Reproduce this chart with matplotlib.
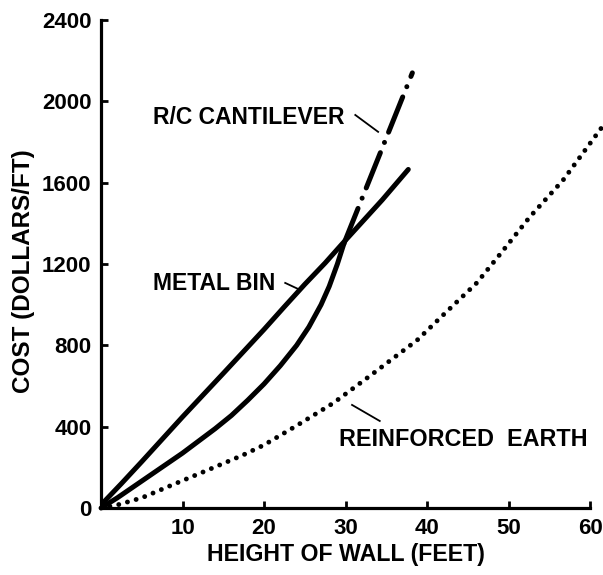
import matplotlib
matplotlib.use("Agg")
from matplotlib import pyplot as plt

# wall height (ft) vs cost per running foot for three wall types
metal_bin_height = [0, 2.5, 5, 7.5, 10, 12.5, 15, 17.5, 20, 22.5, 25, 27.5,
                    29.5, 32, 34.5, 37.7]
metal_bin_cost = [15, 120, 228, 338, 448, 555, 662, 770, 878, 990, 1100, 1205,
                  1295, 1405, 1515, 1665]

cantilever_height = [0, 2, 4, 6, 8, 10, 12, 14, 16, 18, 20, 22, 24, 25.5, 27,
                     28, 29, 29.8]
cantilever_cost = [0, 50, 105, 160, 215, 270, 330, 390, 455, 530, 610, 700,
                   800, 890, 1000, 1090, 1200, 1300]
# extrapolated part of the R/C curve, drawn dash-dot
cantilever_ext_height = [29.8, 34, 38.2]
cantilever_ext_cost = [1300, 1720, 2140]

earth_height = [0, 2, 5, 9.3, 13, 17.4, 20, 24, 28.5, 33, 38.8, 42, 46.1, 49,
                52.6, 56.7, 61.5]
earth_cost = [0, 15, 50, 123, 185, 260, 310, 405, 516, 650, 826, 950, 1107,
              1250, 1431, 1613, 1875]

x_ticks = [10, 20, 30, 40, 50, 60]
y_ticks = [0, 400, 800, 1200, 1600, 2000, 2400]

FONT = {"family": "Liberation Sans", "weight": "bold"}

fig = plt.figure(figsize=(6.03, 5.75), dpi=100)
ax = fig.add_axes([0.1675, 0.1165, 0.811, 0.8487])

ax.plot(metal_bin_height, metal_bin_cost, color="black", lw=3.6,
        solid_capstyle="round", solid_joinstyle="round")
ax.plot(cantilever_height, cantilever_cost, color="black", lw=3.6,
        solid_capstyle="round", solid_joinstyle="round")
ax.plot(cantilever_ext_height, cantilever_ext_cost, color="black", lw=3.6,
        dashes=(7.6, 2.2, 0.01, 2.2), dash_capstyle="round")
ax.plot(earth_height, earth_cost, color="black", lw=3.5,
        dashes=(0.01, 1.85), dash_capstyle="round", clip_on=False)

ax.set_xlim(0, 60)
ax.set_ylim(0, 2400)
for side in ("top", "right"):
    ax.spines[side].set_visible(False)
for side in ("left", "bottom"):
    ax.spines[side].set_linewidth(2.3)

ax.set_xticks(x_ticks)
ax.set_yticks(y_ticks)
ax.tick_params(direction="in", length=5, width=2, pad=7)
for lab in ax.get_xticklabels() + ax.get_yticklabels():
    lab.set_fontproperties(FONT)
    lab.set_fontsize(16)

ax.set_xlabel("HEIGHT OF WALL (FEET)", fontsize=16.7, labelpad=3, **FONT)
ax.set_ylabel("COST (DOLLARS/FT)", fontsize=17.5, labelpad=6, **FONT)
ax.yaxis.set_label_coords(-0.135, 0.485)

# curve labels with short leader lines
ax.text(6.4, 1923, "R/C CANTILEVER", fontsize=16.5, va="center", **FONT)
ax.plot([31.2, 34.0], [1933, 1850], color="black", lw=1.3)
ax.text(6.4, 1102, "METAL BIN", fontsize=16.5, va="center", **FONT)
ax.plot([22.6, 24.2], [1107, 1077], color="black", lw=1.3)
ax.text(29.2, 335, "REINFORCED  EARTH", fontsize=16.8, va="center", **FONT)
ax.plot([30.8, 34.2], [507, 428], color="black", lw=1.3)

fig.savefig("out.png", dpi=100)
